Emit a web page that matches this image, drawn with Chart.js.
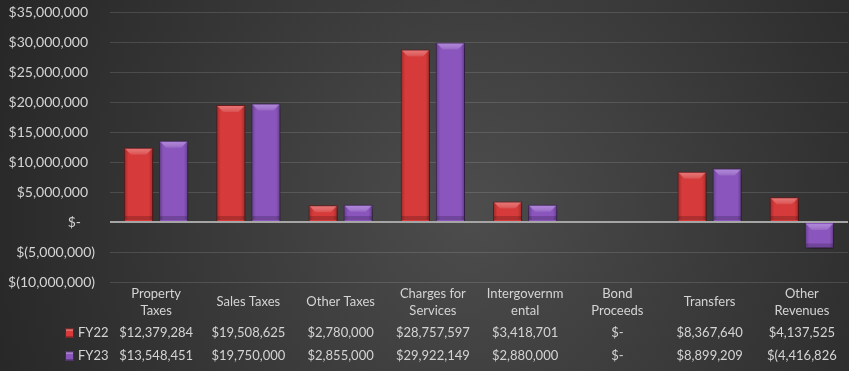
<!DOCTYPE html>
<html>
<head>
<meta charset="utf-8">
<script src="https://cdn.jsdelivr.net/npm/chart.js@4.4.1/dist/chart.umd.min.js"></script>
<style>
  html, body { margin: 0; padding: 0; background: #2a2a2a; }
  #wrap { width: 849px; height: 371px; }
</style>
</head>
<body>
<div id="wrap"><canvas id="c" width="849" height="371"></canvas></div>
<script>
// ---- data ----
const categories = [
  ['Property', 'Taxes'],
  ['Sales Taxes'],
  ['Other Taxes'],
  ['Charges for', 'Services'],
  ['Intergovernm', 'ental'],
  ['Bond', 'Proceeds'],
  ['Transfers'],
  ['Other', 'Revenues']
];
const seriesNames = ['FY22', 'FY23'];
const fy22 = [12379284, 19508625, 2780000, 28757597, 3418701, 0, 8367640, 4137525];
const fy23 = [13548451, 19750000, 2855000, 29922149, 2880000, 0, 8899209, -4416826];
const yMin = -10000000, yMax = 35000000, yStep = 5000000;

const FONT = "Lato, 'Open Sans', 'Liberation Sans', sans-serif";
const TEXT = '#d4d4d4';
const colors = ['#d63a3a', '#8a55bd'];
const borders = ['#6e1c1c', '#43275e'];
const lights = ['rgba(255,170,170,0.5)', 'rgba(215,180,255,0.5)'];

function tableFmt(v) {
  if (v === 0) return '$-';
  const s = Math.abs(v).toLocaleString('en-US');
  return v < 0 ? '$(' + s : '$' + s;   // cell clips the closing parenthesis
}
function tickFmt(v) {
  if (v === 0) return '$-\u2002\u2002';
  const s = Math.abs(v).toLocaleString('en-US');
  return v < 0 ? '$(' + s + ')' : '$' + s + '\u2002';
}

const bgPlugin = {
  id: 'bg',
  beforeDraw(chart) {
    const { ctx, width, height } = chart;
    const g = ctx.createRadialGradient(470, 210, 10, 470, 210, 520);
    g.addColorStop(0, '#4c4c4c');
    g.addColorStop(1, '#262626');
    ctx.save();
    ctx.fillStyle = g;
    ctx.fillRect(0, 0, width, height);
    ctx.restore();
  }
};

const barFx = {
  id: 'barFx',
  beforeDatasetsDraw(chart) {
    const ctx = chart.ctx;
    ctx.save();
    ctx.shadowColor = 'rgba(0,0,0,0.55)';
    ctx.shadowBlur = 5;
    ctx.shadowOffsetX = 1;
    ctx.shadowOffsetY = 3;
  },
  afterDatasetsDraw(chart) {
    const ctx = chart.ctx;
    ctx.restore();
    chart.data.datasets.forEach((ds, di) => {
      chart.getDatasetMeta(di).data.forEach(el => {
        const w = el.width;
        const l = el.x - w / 2, r = el.x + w / 2;
        const t = Math.min(el.y, el.base), b = Math.max(el.y, el.base);
        const h = b - t;
        if (h < 1) return;
        ctx.save();
        const g = ctx.createLinearGradient(l, 0, r, 0);
        g.addColorStop(0, 'rgba(0,0,0,0.28)');
        g.addColorStop(0.15, 'rgba(0,0,0,0)');
        g.addColorStop(0.85, 'rgba(0,0,0,0)');
        g.addColorStop(1, 'rgba(0,0,0,0.28)');
        ctx.fillStyle = g;
        ctx.fillRect(l + 1, t + 1, w - 2, h - 2);
        const bv = Math.min(6, h / 2);
        ctx.beginPath();
        ctx.moveTo(l + 1, t + 1);
        ctx.lineTo(r - 1, t + 1);
        ctx.lineTo(r - 1 - bv, t + 1 + bv);
        ctx.lineTo(l + 1 + bv, t + 1 + bv);
        ctx.closePath();
        const gb = ctx.createLinearGradient(0, t, 0, t + bv + 1);
        gb.addColorStop(0, lights[di]);
        gb.addColorStop(1, 'rgba(255,255,255,0.1)');
        ctx.fillStyle = gb;
        ctx.fill();
        const bb = Math.min(4, h / 3);
        ctx.fillStyle = 'rgba(0,0,0,0.18)';
        ctx.fillRect(l + 1, b - 1 - bb, w - 2, bb);
        ctx.restore();
      });
    });
  }
};

const tablePlugin = {
  id: 'table',
  afterDraw(chart) {
    const { ctx } = chart;
    const x = chart.scales.x;
    ctx.save();
    ctx.font = '13px ' + FONT;
    ctx.fillStyle = TEXT;
    ctx.textAlign = 'center';
    ctx.textBaseline = 'middle';
    categories.forEach((lines, i) => {
      const cx = x.getPixelForValue(i);
      if (lines.length === 1) {
        ctx.fillText(lines[0], cx, 302);
      } else {
        ctx.fillText(lines[0], cx, 294);
        ctx.fillText(lines[1], cx, 311);
      }
      ctx.fillText(tableFmt(fy22[i]), cx, 333);
      ctx.fillText(tableFmt(fy23[i]), cx, 356);
    });
    const rows = [333, 356];
    seriesNames.forEach((name, si) => {
      const y = rows[si];
      ctx.fillStyle = colors[si];
      ctx.fillRect(65, y - 4.5, 9, 9);
      ctx.strokeStyle = borders[si];
      ctx.lineWidth = 1;
      ctx.strokeRect(65.5, y - 4, 8, 8);
      ctx.fillStyle = 'rgba(255,255,255,0.25)';
      ctx.fillRect(66, y - 4, 7, 2);
      ctx.fillStyle = TEXT;
      ctx.textAlign = 'left';
      ctx.fillText(name, 78, y);
    });
    ctx.restore();
  }
};

new Chart(document.getElementById('c'), {
  type: 'bar',
  data: {
    labels: categories.map(c => c.join(' ')),
    datasets: [
      { label: seriesNames[0], data: fy22, backgroundColor: colors[0], borderColor: borders[0], borderWidth: 1 },
      { label: seriesNames[1], data: fy23, backgroundColor: colors[1], borderColor: borders[1], borderWidth: 1 }
    ]
  },
  options: {
    responsive: false,
    animation: false,
    devicePixelRatio: 1,
    layout: { padding: { top: 12, right: 1, bottom: 89, left: 0 } },
    datasets: { bar: { categoryPercentage: 0.76, barPercentage: 0.83 } },
    plugins: { legend: { display: false }, tooltip: { enabled: false } },
    scales: {
      x: {
        ticks: { display: false },
        grid: { display: false, drawTicks: false },
        border: { display: false }
      },
      y: {
        min: yMin, max: yMax,
        afterFit(scale) { scale.width = 110; scale.paddingTop = 0; scale.paddingBottom = 0; },
        ticks: {
          stepSize: yStep,
          padding: 15,
          color: TEXT,
          font: { family: FONT, size: 14 },
          callback: v => tickFmt(v)
        },
        grid: {
          drawTicks: false,
          color: ctx => ctx.tick && ctx.tick.value === 0 ? '#a5a5a5' : 'rgba(255,255,255,0.13)',
          lineWidth: ctx => ctx.tick && ctx.tick.value === 0 ? 2 : 1
        },
        border: { display: false }
      }
    }
  },
  plugins: [bgPlugin, barFx, tablePlugin]
});
</script>
</body>
</html>
